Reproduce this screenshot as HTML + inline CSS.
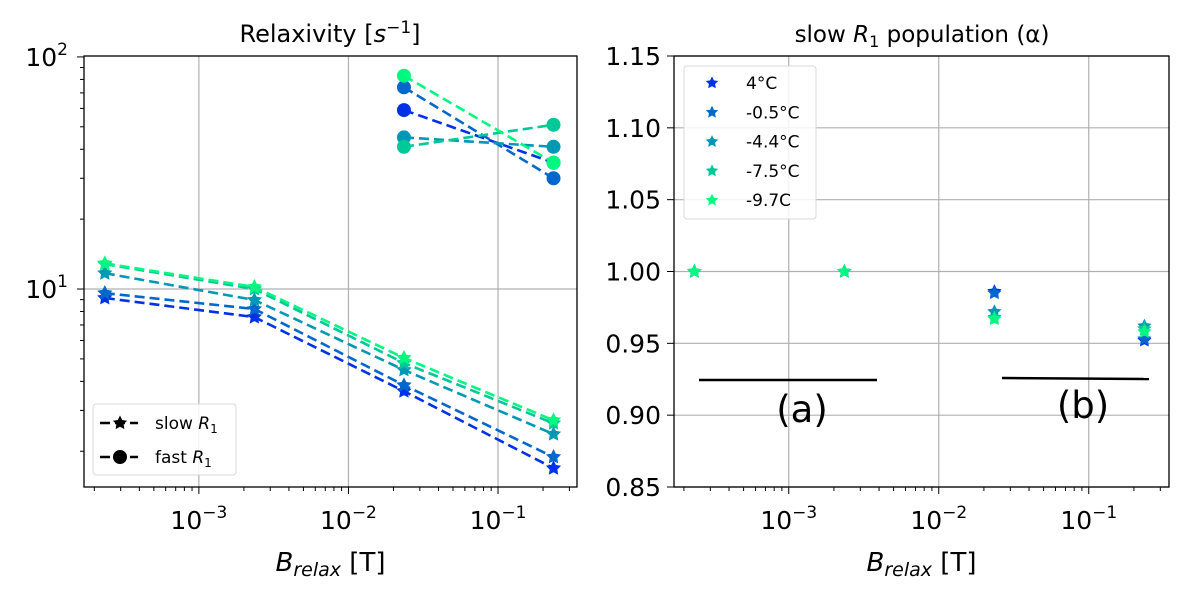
<!DOCTYPE html>
<html><head><meta charset="utf-8">
<style>
html,body{margin:0;padding:0;background:#fff;}
svg{display:block;font-family:"DejaVu Sans","Liberation Sans",sans-serif;}
</style></head>
<body>
<svg id="fig" width="1181" height="591" viewBox="0 0 1181 591" xmlns="http://www.w3.org/2000/svg">
</svg>
<script>
// ---- data ----
const temps = ["4°C", "-0.5°C", "-4.4°C", "-7.5°C", "-9.7C"];
const colors = ["#0030e8", "#0068cc", "#0098b4", "#00c898", "#00f880"];
const fields = [2.35e-4, 2.35e-3, 2.35e-2, 0.235];
const slowR1_4 = [9.15, 7.57, 3.63, 1.69];
const slowR1_m05 = [9.6, 8.2, 3.85, 1.89];
const slowR1_m44 = [11.7, 8.97, 4.48, 2.37];
const slowR1_m75 = [12.8, 10.0, 4.8, 2.64];
const slowR1_m97 = [12.9, 10.2, 5.05, 2.72];
const fastFields = [2.35e-2, 0.235];
const fastR1_4 = [59, 35];
const fastR1_m05 = [74, 30];
const fastR1_m44 = [45, 41];
const fastR1_m75 = [41, 51];
const fastR1_m97 = [83, 35];
const alpha_4 = [1.0, 1.0, 0.986, 0.952];
const alpha_m05 = [1.0, 1.0, 0.985, 0.953];
const alpha_m44 = [1.0, 1.0, 0.972, 0.962];
const alpha_m75 = [1.0, 1.0, 0.968, 0.960];
const alpha_m97 = [1.0, 1.0, 0.967, 0.958];
const xTickExp = [-3, -2, -1];
const leftYTickExp = [1, 2];
const rightYTicks = [0.85, 0.90, 0.95, 1.00, 1.05, 1.10, 1.15];

const slowSets = [slowR1_4, slowR1_m05, slowR1_m44, slowR1_m75, slowR1_m97];
const fastSets = [fastR1_4, fastR1_m05, fastR1_m44, fastR1_m75, fastR1_m97];
const alphaSets = [alpha_4, alpha_m05, alpha_m44, alpha_m75, alpha_m97];

const NS = "http://www.w3.org/2000/svg";
const svg = document.getElementById("fig");
function mk(tag, attrs, parent) {
  const e = document.createElementNS(NS, tag);
  for (const k in attrs) e.setAttribute(k, attrs[k]);
  (parent || svg).appendChild(e);
  return e;
}
function starPts(cx, cy, r) {
  let p = [];
  for (let i = 0; i < 10; i++) {
    const a = -Math.PI / 2 + i * Math.PI / 5;
    const rr = i % 2 ? r * 0.5 : r;
    p.push((cx + rr * Math.cos(a)).toFixed(1) + "," + (cy + rr * Math.sin(a)).toFixed(1));
  }
  return p.join(" ");
}

// ---- axes ----
const L = {x0: 84, x1: 577, y0: 56, y1: 487, lxmin: -3.768, lxmax: -0.472, lymin: 0.147, lymax: 2.004};
const R = {x0: 674, x1: 1169, y0: 56, y1: 487, lxmin: -3.765, lxmax: -0.465, ymin: 0.85, ymax: 1.15};
function lx(ax, v) { return ax.x0 + (Math.log10(v) - ax.lxmin) / (ax.lxmax - ax.lxmin) * (ax.x1 - ax.x0); }
function lyL(v) { return L.y1 - (Math.log10(v) - L.lymin) / (L.lymax - L.lymin) * (L.y1 - L.y0); }
function yR(v) { return R.y1 - (v - R.ymin) / (R.ymax - R.ymin) * (R.y1 - R.y0); }

function xAxis(ax, name) {
  const g = mk("g", {});
  
  
  for (let e = -4; e <= 0; e++) for (let m = 1; m <= 9; m++) {
    const v = m * Math.pow(10, e);
    const x = lx(ax, v);
    if (x < ax.x0 - 0.5 || x > ax.x1 + 0.5) continue;
    mk("line", {x1: x, x2: x, y1: ax.y1, y2: ax.y1 + (m === 1 ? 7 : 4), stroke: "#000", "stroke-width": 1}, g);
  }
  xTickExp.forEach(e => {
    const x = lx(ax, Math.pow(10, e));
    mk("line", {x1: x, x2: x, y1: ax.y0, y2: ax.y1, stroke: "#b0b0b0", "stroke-width": 1.2}, g);
    const t = mk("text", {x: x, y: 529, "font-size": 25, "text-anchor": "middle"}, g);
    
    
    t.innerHTML = '10<tspan dy="-11" font-size="17">\u2212' + (-e) + '</tspan>';
  });
  const tt = mk("text", {x: (ax.x0 + ax.x1) / 2, y: 571, "font-size": 26, "text-anchor": "middle"}, g);
  
  
  tt.innerHTML = '<tspan font-style="italic">B</tspan><tspan font-style="italic" font-size="19" dy="5">relax</tspan><tspan dy="-5"> [T]</tspan>';
}
xAxis(L, "left-x-axis");
xAxis(R, "right-x-axis");

// left y axis
const gly = mk("g", {});


for (let e = 0; e <= 2; e++) for (let m = 1; m <= 9; m++) {
  const v = m * Math.pow(10, e), y = lyL(v);
  if (y < L.y0 - 0.5 || y > L.y1 + 0.5) continue;
  mk("line", {x1: L.x0, x2: L.x0 - (m === 1 ? 7 : 4), y1: y, y2: y, stroke: "#000", "stroke-width": 1}, gly);
}
leftYTickExp.forEach(e => {
  const y = lyL(Math.pow(10, e));
  if (e < 2) mk("line", {x1: L.x0, x2: L.x1, y1: y, y2: y, stroke: "#b0b0b0", "stroke-width": 1.2}, gly);
  const t = mk("text", {x: 68, y: y + 9, "font-size": 25, "text-anchor": "end"}, gly);
  
  
  t.innerHTML = '10<tspan dy="-11" font-size="17">' + e + '</tspan>';
});
// right y axis
const gry = mk("g", {});


rightYTicks.forEach(v => {
  const y = yR(v);
  mk("line", {x1: R.x0, x2: R.x1, y1: y, y2: y, stroke: "#b0b0b0", "stroke-width": 1.2}, gry);
  mk("line", {x1: R.x0, x2: R.x0 - 7, y1: y, y2: y, stroke: "#000", "stroke-width": 1}, gry);
  const t = mk("text", {x: 661, y: y + 9, "font-size": 25, "text-anchor": "end"}, gry);
  
  
  t.textContent = v.toFixed(2);
});

// titles
const t1 = mk("text", {x: 330, y: 42, "font-size": 24, "text-anchor": "middle"});


t1.innerHTML = 'Relaxivity [<tspan font-style="italic">s</tspan><tspan dy="-9" font-size="17">\u22121</tspan><tspan dy="9">]</tspan>';
const t2 = mk("text", {x: 922, y: 42, "font-size": 23, "text-anchor": "middle"});


t2.innerHTML = 'slow <tspan font-style="italic">R</tspan><tspan font-size="16" dy="5">1</tspan><tspan dy="-5"> population (α)</tspan>';

// left series
slowSets.forEach((s, i) => {
  const g = mk("g", {});
  
  
  const pts = s.map((v, j) => lx(L, fields[j]).toFixed(1) + "," + lyL(v).toFixed(1)).join(" ");
  mk("polyline", {points: pts, fill: "none", stroke: colors[i], "stroke-width": 2.6, "stroke-dasharray": "10,5"}, g);
  s.forEach((v, j) => {
    const p = mk("polygon", {points: starPts(lx(L, fields[j]), lyL(v), 8), fill: colors[i]}, g);
    
    
  });
});
fastSets.forEach((s, i) => {
  const g = mk("g", {});
  
  
  const pts = s.map((v, j) => lx(L, fastFields[j]).toFixed(1) + "," + lyL(v).toFixed(1)).join(" ");
  mk("polyline", {points: pts, fill: "none", stroke: colors[i], "stroke-width": 2.6, "stroke-dasharray": "10,5"}, g);
  s.forEach((v, j) => {
    const c = mk("circle", {cx: lx(L, fastFields[j]), cy: lyL(v), r: 7, fill: colors[i]}, g);
    
    
  });
});

// right series
alphaSets.forEach((s, i) => {
  const g = mk("g", {});
  
  
  s.forEach((v, j) => {
    const p = mk("polygon", {points: starPts(lx(R, fields[j]), yR(v), 7.5), fill: colors[i]}, g);
    
    
  });
});

// annotations (a) (b)
mk("line", {x1: 699, x2: 877, y1: 380, y2: 380, stroke: "#000", "stroke-width": 2.5});
mk("line", {x1: 1002, x2: 1149, y1: 378, y2: 379, stroke: "#000", "stroke-width": 2.5});
const ta = mk("text", {x: 802, y: 422, "font-size": 37, "text-anchor": "middle"});


ta.textContent = "(a)";
const tb = mk("text", {x: 1083, y: 418, "font-size": 37, "text-anchor": "middle"});


tb.textContent = "(b)";

// frames
[L, R].forEach((ax, i) => {
  const r = mk("rect", {x: ax.x0, y: ax.y0, width: ax.x1 - ax.x0, height: ax.y1 - ax.y0, fill: "none", stroke: "#000", "stroke-width": 1.3});
  
  
});

// left legend
const lg = mk("g", {});


mk("rect", {x: 93, y: 404, width: 143, height: 71, rx: 3, fill: "#fff", "fill-opacity": 0.85, stroke: "#d8d8d8"}, lg);
[["slow", 423], ["fast", 457]].forEach(([lab, y], k) => {
  mk("line", {x1: 100, x2: 138, y1: y, y2: y, stroke: "#000", "stroke-width": 2.6, "stroke-dasharray": "10,5"}, lg);
  if (k === 0) mk("polygon", {points: starPts(120, y, 7.5), fill: "#000"}, lg);
  else mk("circle", {cx: 120, cy: y, r: 7, fill: "#000"}, lg);
  const t = mk("text", {x: 155, y: y + 6, "font-size": 17}, lg);
  
  
  t.innerHTML = lab + ' <tspan font-style="italic">R</tspan><tspan font-size="12" dy="4">1</tspan>';
});

// right legend
const rg = mk("g", {});


mk("rect", {x: 684, y: 66, width: 132, height: 153, rx: 3, fill: "#fff", "fill-opacity": 0.85, stroke: "#d8d8d8"}, rg);
temps.forEach((lab, i) => {
  const y = 83 + i * 29.3;
  mk("polygon", {points: starPts(712, y, 6.5), fill: colors[i]}, rg);
  const t = mk("text", {x: 746, y: y + 6, "font-size": 17}, rg);
  
  
  t.textContent = lab;
});
</script>
</body></html>
